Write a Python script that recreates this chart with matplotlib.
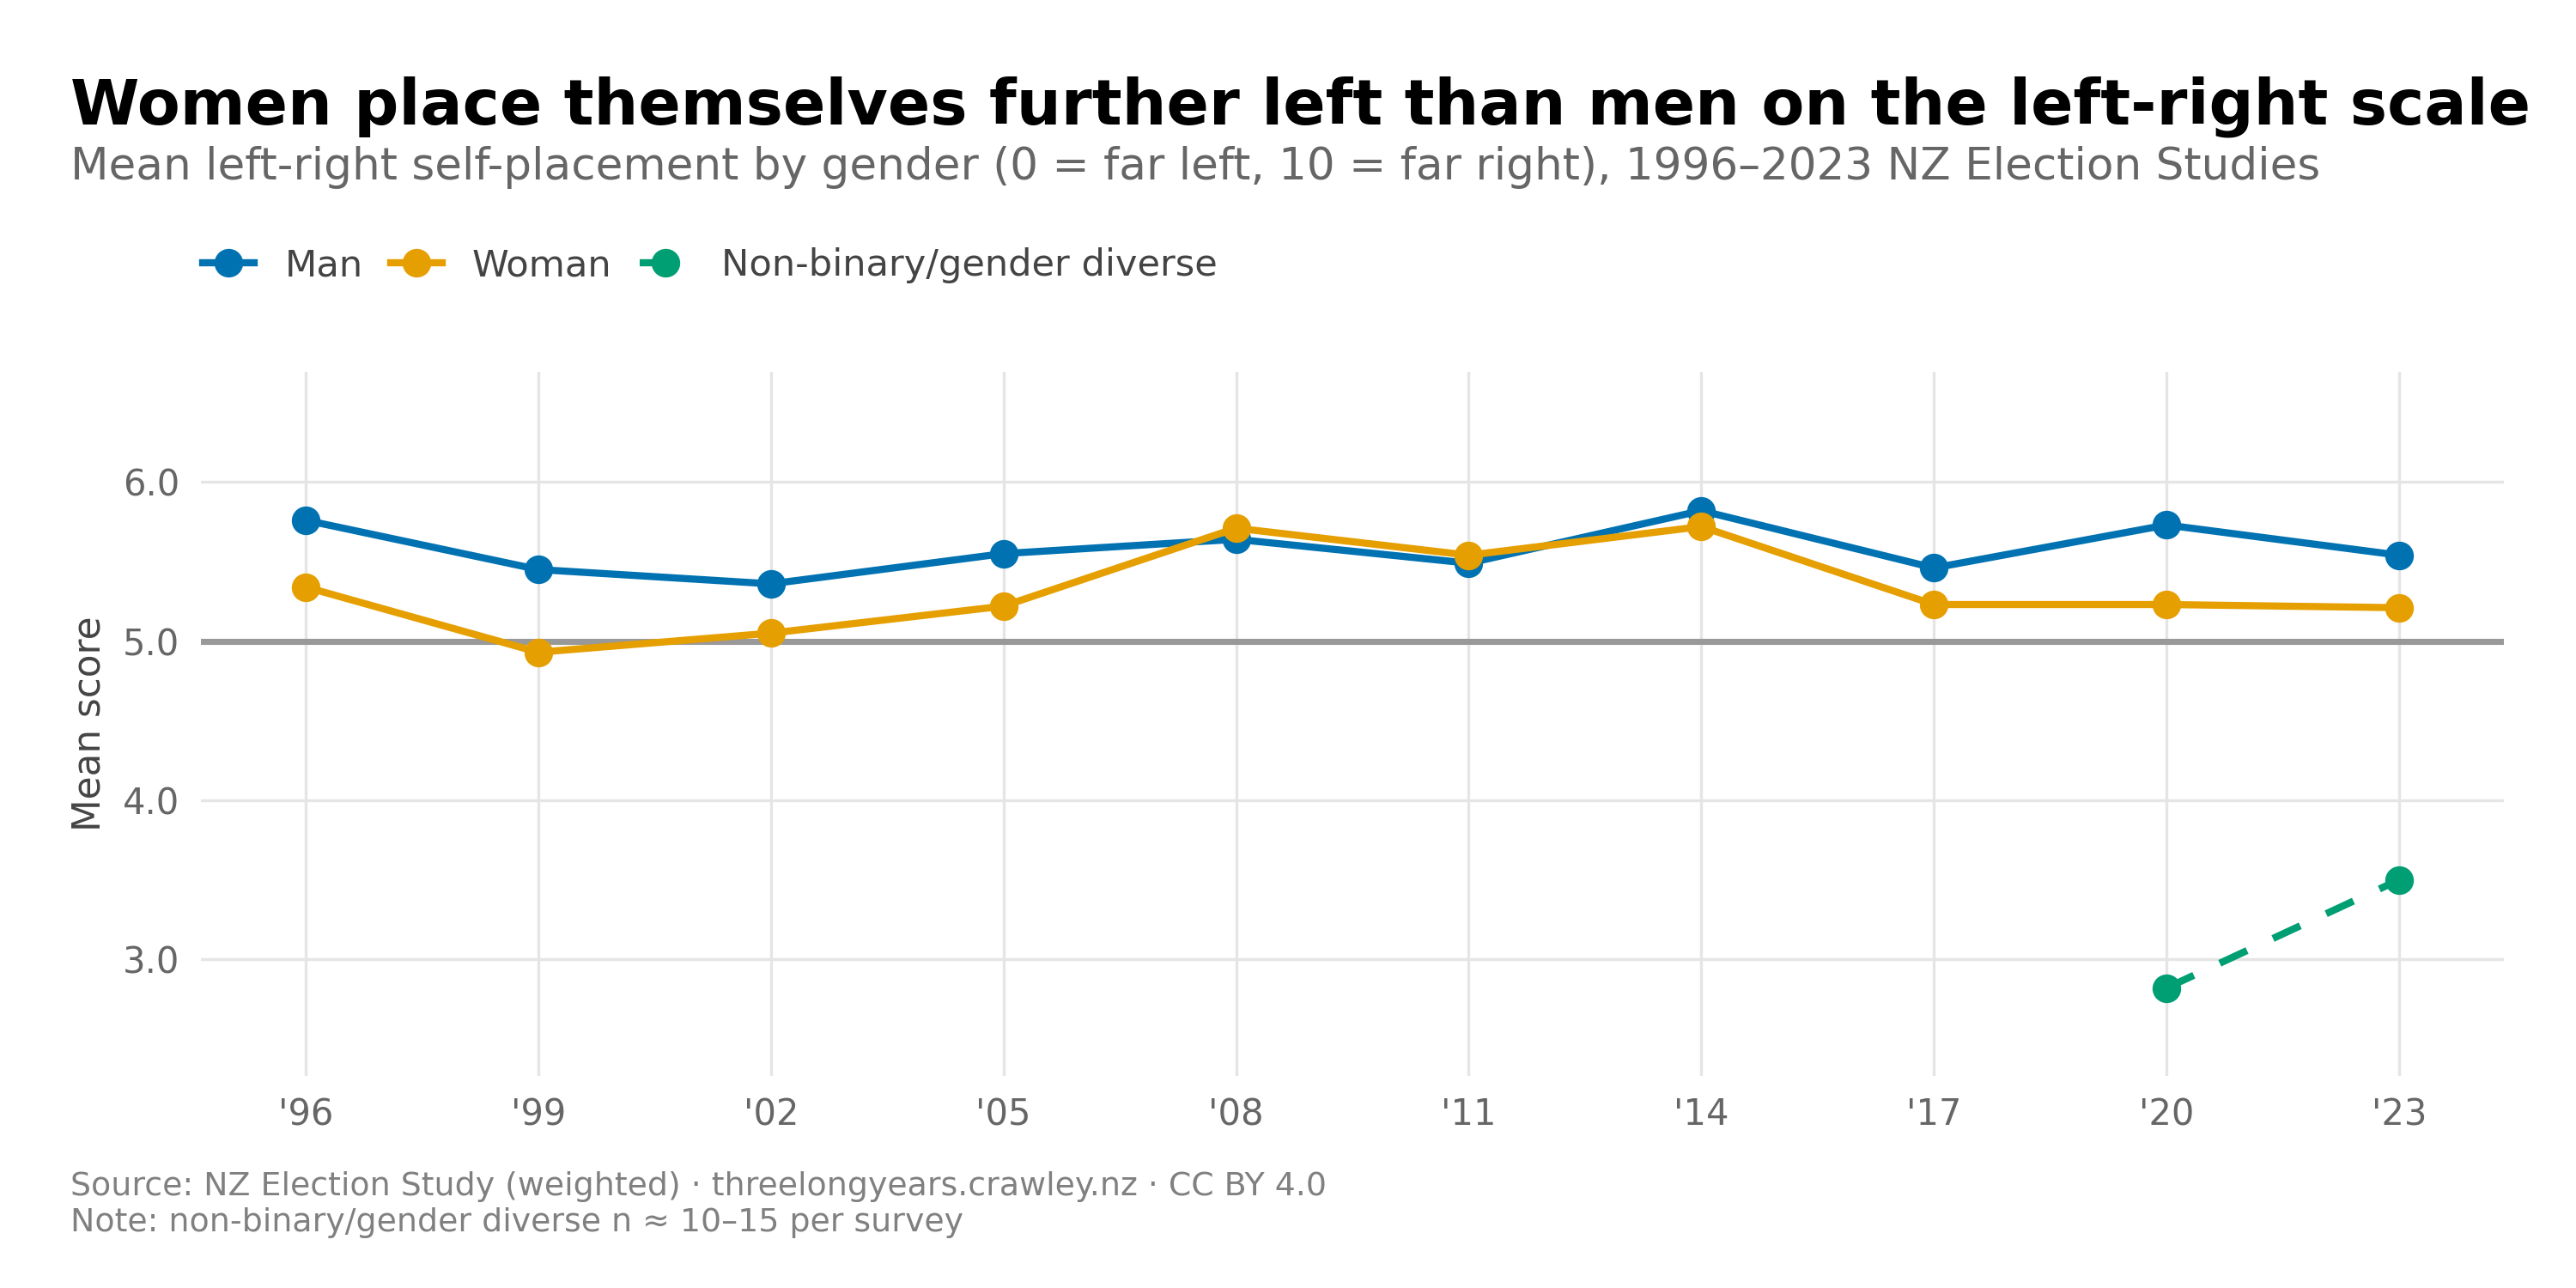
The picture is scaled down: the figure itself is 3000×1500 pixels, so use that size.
import matplotlib
matplotlib.use("Agg")
import matplotlib.pyplot as plt

years = [1996, 1999, 2002, 2005, 2008, 2011, 2014, 2017, 2020, 2023]
tick_labels = ["'96", "'99", "'02", "'05", "'08", "'11", "'14", "'17", "'20", "'23"]
man = [5.76, 5.45, 5.36, 5.55, 5.64, 5.49, 5.82, 5.46, 5.73, 5.54]
woman = [5.34, 4.93, 5.05, 5.22, 5.71, 5.54, 5.72, 5.23, 5.23, 5.21]
nb_years = [2020, 2023]
nonbinary = [2.82, 3.50]

plt.rcParams['font.family'] = ['DejaVu Sans']

fig = plt.figure(figsize=(10, 5), dpi=300)
ax = fig.add_axes([0.078, 0.165, 0.894, 0.546])

ax.axhline(5.0, color="#999999", lw=1.7, zorder=1)
ax.plot(years, man, color="#0072B2", lw=2.0, marker="o", ms=7, label="Man", zorder=3)
ax.plot(years, woman, color="#E69F00", lw=2.0, marker="o", ms=7, label="Woman", zorder=3)
ax.plot(nb_years, nonbinary, color="#009E73", lw=2.0, ls=(0, (4.2, 4.0)), marker="o", ms=7,
        label="Non-binary/gender diverse", zorder=3)

ax.set_xlim(1994.65, 2024.35)
ax.set_ylim(2.27, 6.69)
ax.set_xticks(years)
ax.set_xticklabels(tick_labels)
ax.set_yticks([3.0, 4.0, 5.0, 6.0])
ax.set_yticklabels(["3.0", "4.0", "5.0", "6.0"])
ax.tick_params(axis="both", length=0, labelsize=10, colors="#666666", pad=6)
ax.grid(True, color="#e5e5e5", lw=0.8)
ax.set_axisbelow(True)
for s in ax.spines.values():
    s.set_visible(False)
ax.set_ylabel("Mean score", fontsize=10.5, color="#444444", labelpad=4)

fig.text(0.0275, 0.904, "Women place themselves further left than men on the left-right scale",
         fontsize=17.5, fontweight="bold", color="black", va="baseline")
fig.text(0.0275, 0.861, "Mean left-right self-placement by gender (0 = far left, 10 = far right), 1996\u20132023 NZ Election Studies",
         fontsize=12.4, color="#666666", va="baseline")

leg = fig.legend(loc="center left", bbox_to_anchor=(0.0787, 0.794), ncol=3, frameon=False,
                 fontsize=10.4, handlelength=1.39, handletextpad=0.81, columnspacing=0.74,
                 borderaxespad=0, borderpad=0)
for t in leg.get_texts():
    t.set_color("#444444")

fig.text(0.0275, 0.079, "Source: NZ Election Study (weighted) \u00b7 threelongyears.crawley.nz \u00b7 CC BY 4.0",
         fontsize=9.1, color="#808080", va="center")
fig.text(0.0275, 0.051, "Note: non-binary/gender diverse n \u2248 10\u201315 per survey",
         fontsize=9.1, color="#808080", va="center")

fig.savefig("out.png", dpi=300, facecolor="white")
